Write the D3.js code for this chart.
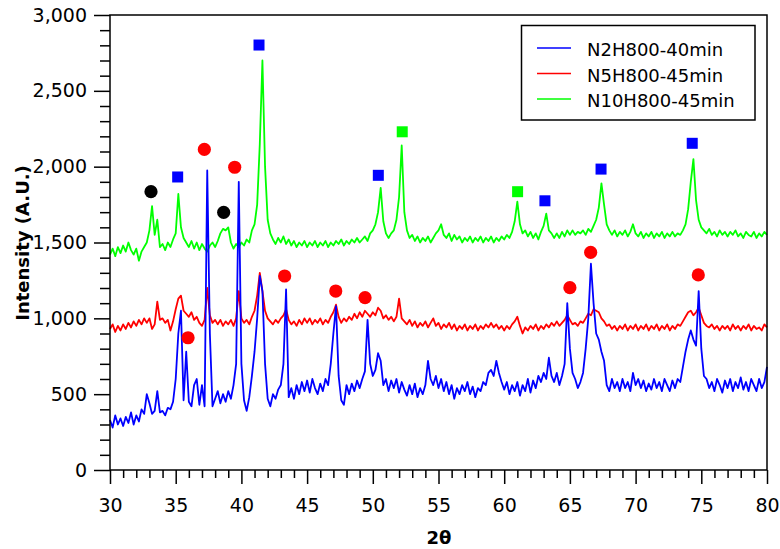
<!DOCTYPE html>
<html><head><meta charset="utf-8">
<script src="https://cdn.jsdelivr.net/npm/d3@7/dist/d3.min.js"></script>
<style>
body{margin:0;background:#fff}
svg{display:block}
text{font-family:"DejaVu Sans",Verdana,sans-serif;fill:#000}
</style>
</head><body>
<svg id="chart" width="780" height="549"></svg>
<script>
// ---------- data ----------
const seriesNames = ["N2H800-40min", "N5H800-45min", "N10H800-45min"];
const seriesColors = ["#0000ff", "#ff0000", "#00ff00"];
// sampling grid of 2θ (30 to 80, step 0.2)
const twoTheta = d3.range(0, 251).map(i => +(30 + i * 0.2).toFixed(1));

const blueN2 = [
 330,280,360,300,340, 290,350,310,380,300, 360,320,400,370,500, 440,370,390,520,380,
 390,360,410,400,450, 600,900,1050,460,780, 450,420,560,600,430, 560,420,1975,900,420,
 470,520,440,500,450, 520,470,560,700,1900, 700,460,390,480,620, 780,1000,1280,1180,700,
 470,420,500,470,530, 560,700,1190,480,540, 470,560,500,580,520, 590,510,600,540,500,
 570,520,600,560,700, 900,1080,620,460,430, 560,500,570,520,590, 540,600,650,990,700,
 620,660,770,720,560, 600,520,590,540,600, 510,580,530,490,560, 500,570,480,540,500,
 560,720,600,560,620, 540,600,520,580,500, 560,470,540,500,560, 520,580,500,550,480,
 540,520,580,560,640, 660,620,720,640,580, 530,580,500,560,520, 580,490,560,520,600,
 510,590,540,620,580, 640,600,740,620,580, 640,560,620,700,1100, 800,640,600,540,580,
 640,800,1000,1360,1100, 900,860,780,720,560, 520,600,540,580,520, 600,540,580,520,640,
 560,600,540,590,520, 570,530,600,540,580, 520,600,560,520,590, 540,600,580,680,780,
 860,920,860,820,1180, 800,620,600,540,580, 520,600,560,510,590, 540,600,520,580,540,
 610,530,580,520,600, 560,520,600,540,580, 680
];
const redN5 = [
 930,960,910,950,920, 960,930,970,940,980, 950,990,960,1000,970, 1000,930,960,1110,990,
 1000,970,990,920,980, 1060,1130,1150,1050,1030, 1010,1040,990,1010,970, 950,990,1200,1020,970,
 990,960,990,950,980, 960,990,950,1000,1180, 1000,970,990,960,1010, 1050,1150,1300,1180,1050,
 1000,980,960,990,970, 1000,1020,1060,990,960, 980,950,990,960,1000, 970,1000,960,990,970,
 1000,960,990,970,1010, 1040,1090,1010,970,1000, 980,1010,990,1030,1000, 1040,1010,1050,1030,1010,
 1040,1020,1070,1050,1000, 1020,990,1010,980,1010, 1130,1000,980,960,990, 950,980,940,970,950,
 980,940,970,1000,950, 970,930,960,940,970, 930,960,920,950,930, 960,920,950,930,960,
 920,950,930,960,940, 970,940,960,930,950, 920,950,930,960,980, 1010,950,900,940,920,
 950,930,960,920,950, 930,960,940,970,950, 980,950,970,990,1020, 990,960,970,950,980,
 970,1000,1030,1020,1060, 1050,1040,1000,980,950, 960,930,950,920,950, 930,960,920,950,930,
 960,920,950,930,960, 920,950,930,960,920, 950,930,960,920,950, 930,960,950,980,1010,
 1040,1050,1020,1040,1070, 1020,970,950,940,960, 930,950,920,950,930, 950,920,960,930,950,
 920,950,930,960,920, 950,930,940,920,960, 940
];
const greenN10 = [
 1420,1460,1410,1470,1430, 1480,1440,1500,1450,1420, 1460,1380,1440,1470,1500, 1580,1740,1550,1650,1470,
 1490,1450,1500,1470,1520, 1560,1820,1600,1530,1500, 1470,1510,1460,1500,1450, 1490,1460,1440,1480,1500,
 1470,1510,1560,1590,1580, 1600,1500,1460,1490,1470, 1500,1480,1520,1500,1580, 1620,1750,2150,2700,2000,
 1650,1560,1520,1490,1530, 1500,1540,1490,1520,1480, 1510,1470,1500,1480,1510, 1470,1500,1480,1510,1470,
 1500,1480,1510,1470,1500, 1480,1510,1490,1520,1480, 1510,1490,1520,1500,1530, 1500,1520,1540,1510,1560,
 1580,1620,1700,1860,1640, 1560,1530,1560,1580,1650, 1800,2140,1700,1580,1530, 1550,1510,1540,1500,1530,
 1510,1540,1500,1530,1560, 1580,1620,1550,1530,1560, 1510,1550,1520,1540,1500, 1530,1510,1540,1500,1530,
 1510,1540,1500,1530,1510, 1540,1500,1530,1510,1540, 1520,1550,1530,1570,1640, 1770,1620,1560,1580,1540,
 1570,1530,1560,1520,1570, 1610,1690,1580,1560,1530, 1560,1530,1570,1540,1580, 1550,1580,1550,1570,1560,
 1580,1550,1590,1570,1610, 1650,1730,1890,1750,1620, 1580,1550,1580,1540,1570, 1550,1580,1540,1570,1620,
 1560,1540,1570,1530,1560, 1540,1570,1530,1560,1540, 1570,1530,1560,1540,1570, 1540,1560,1550,1580,1620,
 1720,1900,2050,1780,1650, 1600,1580,1560,1590,1550, 1570,1540,1580,1550,1570, 1540,1570,1550,1580,1540,
 1560,1530,1570,1550,1540, 1570,1530,1560,1540,1570, 1550
];

// phase markers
const blackCircleX = [33.12, 38.65];
const blackCircleY = [1835, 1699];
const redCircleX = [37.18, 39.49, 35.94, 43.29, 47.18, 49.41, 65.0, 66.58, 74.77];
const redCircleY = [2114, 1996, 872, 1279, 1180, 1136, 1202, 1435, 1286];
const blueSquareX = [35.15, 41.34, 50.42, 63.1, 67.37, 74.31];
const blueSquareY = [1932, 2802, 1943, 1775, 1984, 2154];
const greenSquareX = [52.24, 61.02];
const greenSquareY = [2230, 1835];

const xTicks = d3.range(30, 81, 5);
const yTicks = d3.range(0, 3001, 500);

// ---------- chart ----------
const svg = d3.select("#chart");
const L = 110, R = 767, T = 15, B = 470;
const x = d3.scaleLinear().domain([30, 80]).range([L, R]);
const y = d3.scaleLinear().domain([0, 3000]).range([B, T]);

const series = [blueN2, redN5, greenN10];
const line = d3.line().x((d, i) => x(twoTheta[i])).y(d => y(d));
const drawOrder = [2, 1, 0];
drawOrder.forEach(k => {
  svg.append("path").datum(series[k])
    .attr("fill", "none").attr("stroke", seriesColors[k])
    .attr("stroke-width", 1.8).attr("stroke-linejoin", "round")
    .attr("d", line);
});

// axes
const minorY = d3.range(0, 3001, 100).filter(v => v % 500 !== 0);
const minorX = d3.range(30, 81, 1).filter(v => v % 5 !== 0);

const gy = svg.append("g").attr("transform", `translate(${L},0)`);
gy.call(d3.axisLeft(y).tickValues(yTicks).tickSize(16).tickPadding(7).tickFormat(d3.format(",")));
const gyMinor = svg.append("g").attr("transform", `translate(${L},0)`);
gyMinor.call(d3.axisLeft(y).tickValues(minorY).tickSize(10).tickFormat(""));

const gx = svg.append("g").attr("transform", `translate(0,${B})`);
gx.call(d3.axisBottom(x).tickValues(xTicks).tickSize(14).tickPadding(15).tickFormat(d3.format("d")));
const gxMinor = svg.append("g").attr("transform", `translate(0,${B})`);
gxMinor.call(d3.axisBottom(x).tickValues(minorX).tickSize(8).tickFormat(""));

svg.selectAll(".domain").remove();
svg.selectAll(".tick line").attr("stroke", "#000").attr("stroke-width", 1.5);
svg.selectAll(".tick text").attr("font-size", 19).attr("font-family", "DejaVu Sans, Verdana, sans-serif").attr("fill", "#000");

// frame
svg.append("rect").attr("x", L).attr("y", T).attr("width", R - L).attr("height", B - T)
  .attr("fill", "none").attr("stroke", "#000").attr("stroke-width", 1.5);

// markers
const mk = svg.append("g");
function circles(xs, ys, color) {
  mk.selectAll(null).data(xs).enter().append("circle")
    .attr("cx", d => x(d)).attr("cy", (d, i) => y(ys[i])).attr("r", 6.6).attr("fill", color);
}
function squares(xs, ys, color) {
  const s = 11;
  mk.selectAll(null).data(xs).enter().append("rect")
    .attr("x", d => x(d) - s / 2).attr("y", (d, i) => y(ys[i]) - s / 2)
    .attr("width", s).attr("height", s).attr("fill", color);
}
circles(blackCircleX, blackCircleY, "#000");
circles(redCircleX, redCircleY, "#ff0000");
squares(blueSquareX, blueSquareY, "#0000ff");
squares(greenSquareX, greenSquareY, "#00ff00");

// titles
svg.append("text").attr("transform", "translate(22,243) rotate(-90)")
  .attr("text-anchor", "middle").attr("dominant-baseline", "central")
  .attr("font-weight", "bold").attr("font-size", 18).text("Intensity (A.U.)");
svg.append("text").attr("x", 439).attr("y", 544).attr("text-anchor", "middle")
  .attr("font-weight", "bold").attr("font-size", 18).text("2θ");

// legend
const lg = svg.append("g");
lg.append("rect").attr("x", 521.5).attr("y", 25.5).attr("width", 233.5).attr("height", 94.5)
  .attr("fill", "#fff").attr("stroke", "#000").attr("stroke-width", 1.5);
const rowY = [48, 73.5, 99];
seriesNames.forEach((n, i) => {
  lg.append("line").attr("x1", 537).attr("x2", 571).attr("y1", rowY[i]).attr("y2", rowY[i])
    .attr("stroke", seriesColors[i]).attr("stroke-width", 1.5);
  lg.append("text").attr("x", 587).attr("y", rowY[i] + 8).attr("font-size", 18).text(n);
});
</script>
</body></html>
